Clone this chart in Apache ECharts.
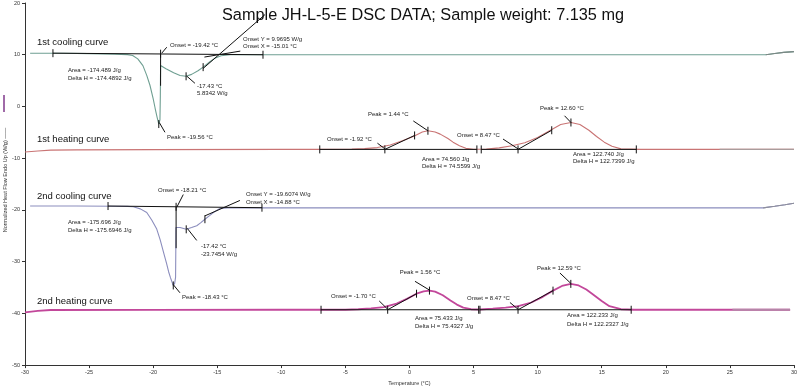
<!DOCTYPE html>
<html>
<head>
<meta charset="utf-8">
<script src="https://cdn.jsdelivr.net/npm/echarts@6/dist/echarts.min.js"></script>
<style>html,body{margin:0;padding:0;background:#fff}#c{width:800px;height:391px}</style>
</head>
<body>
<div id="c"></div>
<script>
// ---- data (temperature °C, heat flow W/g) ----
const titleText = 'Sample JH-L-5-E DSC DATA; Sample weight: 7.135 mg';
const xTicks = [-30, 30, 5];
const yTicks = [-50, 20, 10];

const cooling1X = [-29.6,-27,-25,-23,-22,-21.6,-21.2,-20.8,-20.5,-20.25,-20.0,-19.85,-19.7,-19.56,-19.47,-19.44,-19.42,-19.0,-18.4,-17.9,-17.43,-17.0,-16.5,-16.1,-15.6,-15.2,-14.7,-14.0,-12,-5,5,15,25,27.8,28.5,29.2,30];
const cooling1Y = [10.3,10.28,10.22,10.12,10.02,9.85,9.2,7.9,6.0,4.1,1.5,-0.3,-2.0,-3.4,-2.6,2.0,7.9,7.3,6.5,6.0,5.83,6.2,6.9,7.6,8.6,9.3,9.8,10.0,10.0,10.0,10.0,10.0,10.0,10.0,10.25,10.45,10.6];

const heating1X = [-30,-29,-28,-26,-20,-10,-6,-4.5,-3.5,-2.5,-1.5,-0.5,0.3,1.0,1.44,2.0,2.4,3.0,3.4,3.9,4.4,5.0,6.0,7.0,8.0,9.0,10.0,11.0,11.8,12.6,13.3,14.0,14.6,15.2,15.8,16.5,18,24.2,30];
const heating1Y = [-8.8,-8.6,-8.45,-8.4,-8.35,-8.3,-8.3,-8.25,-8.15,-7.95,-7.45,-6.6,-5.8,-4.95,-4.7,-4.95,-5.35,-6.2,-6.9,-7.6,-8.1,-8.28,-8.25,-8.0,-7.6,-7.0,-6.0,-4.6,-3.5,-3.1,-3.5,-4.6,-5.8,-6.9,-7.7,-8.2,-8.3,-8.3,-8.3];

const cooling2X = [-29.6,-26,-23,-22,-21.55,-21.0,-20.5,-20.1,-19.72,-19.45,-19.2,-18.95,-18.8,-18.65,-18.55,-18.43,-18.32,-18.25,-18.23,-18.22,-17.9,-17.42,-17.0,-16.6,-16.3,-15.96,-15.6,-15.3,-14.79,-14.2,-13.75,-10,0,10,20,27.6,28.5,29.3,30];
const cooling2Y = [-19.25,-19.25,-19.28,-19.32,-19.4,-19.8,-20.5,-22.0,-23.7,-25.8,-28.1,-30.4,-31.9,-33.1,-33.8,-34.6,-34.2,-33.0,-27.0,-23.4,-23.4,-23.75,-23.4,-23.05,-22.5,-21.8,-21.1,-20.5,-19.7,-19.6,-19.57,-19.6,-19.6,-19.6,-19.6,-19.6,-19.3,-19.0,-18.7];

const heating2X = [-30,-29,-28,-20,-10,-5,-4,-3,-2,-1,-0.2,0.55,1.1,1.56,2.0,2.6,3.2,3.7,4.2,4.8,5.5,6.5,7.5,8.5,9.5,10.4,11.2,11.9,12.59,13.2,13.8,14.3,15.0,15.6,16.5,17.5,25.2,29.7];
const heating2Y = [-39.8,-39.5,-39.35,-39.32,-39.3,-39.3,-39.2,-39.05,-38.8,-38.1,-37.2,-36.2,-35.75,-35.6,-35.8,-36.5,-37.5,-38.3,-38.9,-39.2,-39.25,-39.1,-38.9,-38.6,-37.9,-36.8,-35.6,-34.7,-34.3,-34.6,-35.4,-36.3,-37.6,-38.6,-39.2,-39.3,-39.3,-39.3];

// temperature where each curve's trace switches to its (duller) tail colour
const tailStart = [27.8, 24.2, 27.6, 25.2];

// annotation segments [x1,y1,x2,y2]
const annLines = [
  [-27.82,10.3,-11.43,10.0],[-19.42,10.2,-19.42,4.0],[-18.94,11.45,-19.33,10.3],
  [-16.11,7.33,-11.27,17.77],[-16.0,9.55,-13.2,10.7],[-16.74,4.48,-17.38,5.87],[-19.08,-4.99,-19.52,-3.11],
  [-7.0,-8.3,5.26,-8.3],[5.6,-8.3,17.7,-8.3],[-1.92,-8.3,0.4,-5.6],[-2.5,-7.1,-1.92,-8.2],
  [0.3,-2.8,1.44,-4.7],[8.47,-8.3,11.1,-4.6],[7.3,-6.3,8.47,-8.2],[12.1,-1.8,12.6,-3.1],
  [-23.52,-19.25,-11.51,-19.57],[-18.21,-19.4,-18.21,-27.4],[-17.65,-17.03,-18.16,-19.5],
  [-15.96,-21.15,-13.23,-18.17],[-16.6,-25.9,-17.34,-23.56],[-17.91,-36.02,-18.43,-34.44],
  [-6.9,-39.3,5.4,-39.3],[5.5,-39.3,17.3,-39.3],[-1.70,-39.3,0.55,-36.2],[-2.36,-37.6,-1.70,-39.2],
  [0.43,-33.8,1.56,-35.5],[8.47,-39.3,11.2,-35.6],[7.84,-37.9,8.47,-39.2],[11.74,-32.2,12.59,-34.2]
];
// small vertical tick marks [x,y]
const annTicks = [
  [-27.82,10.3],[-11.43,10.0],[-19.42,10.2],[-17.43,5.83],[-16.1,7.6],[-19.56,-3.4],
  [-7.0,-8.3],[5.26,-8.3],[5.6,-8.3],[17.7,-8.3],[-1.92,-8.3],[0.4,-5.6],[1.44,-4.7],[8.47,-8.3],[11.1,-4.6],[12.6,-3.1],
  [-23.52,-19.25],[-11.51,-19.57],[-18.21,-19.4],[-17.42,-23.75],[-15.96,-21.8],[-18.43,-34.6],
  [-6.9,-39.3],[5.4,-39.3],[5.5,-39.3],[17.3,-39.3],[-1.70,-39.3],[0.55,-36.2],[1.56,-35.6],[8.47,-39.3],[11.2,-35.6],[12.59,-34.3]
];
// annotation texts and anchor points
const annText = [
  'Onset = -19.42 °C','Onset Y = 9.9695 W/g','Onset X = -15.01 °C','-17.43 °C','5.8342 W/g',
  'Area = -174.489 J/g','Delta H = -174.4892 J/g','Peak = -19.56 °C',
  'Onset = -1.92 °C','Peak = 1.44 °C','Onset = 8.47 °C','Peak = 12.60 °C',
  'Area = 74.560 J/g','Delta H = 74.5599 J/g','Area = 122.740 J/g','Delta H = 122.7399 J/g',
  'Onset = -18.21 °C','Onset Y = -19.6074 W/g','Onset X = -14.88 °C','-17.42 °C','-23.7454 W/g',
  'Area = -175.696 J/g','Delta H = -175.6946 J/g','Peak = -18.43 °C',
  'Peak = 1.56 °C','Onset = -1.70 °C','Onset = 8.47 °C','Peak = 12.59 °C',
  'Area = 75.433 J/g','Delta H = 75.4327 J/g','Area = 122.233 J/g','Delta H = 122.2327 J/g'
];
const annTextPos = [
  [-18.69,11.9],[-12.99,13.0],[-12.99,11.56],[-16.58,3.97],[-16.58,2.45],
  [-26.65,7.0],[-26.65,5.43],[-18.92,-5.96],
  [-6.44,-6.28],[-3.24,-1.54],[3.71,-5.52],[10.18,-0.27],
  [0.97,-10.27],[0.97,-11.66],[12.76,-9.19],[12.76,-10.7],
  [-19.62,-16.21],[-12.76,-16.97],[-12.76,-18.5],[-16.27,-27.04],[-16.27,-28.55],
  [-26.65,-22.42],[-26.65,-23.87],[-17.75,-36.97],
  [-0.76,-32.1],[-6.13,-36.78],[4.49,-37.16],[9.95,-31.27],
  [0.43,-40.9],[0.43,-42.47],[12.29,-40.46],[12.29,-42.03]
];
const curveNames = ['1st cooling curve','1st heating curve','2nd cooling curve','2nd heating curve'];
const curveNamePos = [[-29.06,12.45],[-29.06,-6.34],[-29.06,-17.35],[-29.06,-37.67]];

// ---- chart ----
const zip = (xs, ys) => xs.map((x, i) => [x, ys[i]]);
const FONT = '"Liberation Sans", Arial, sans-serif';
const curveColors = ['#6f9f92', '#c97474', '#8b8dbd', '#c2479a'];
const tailColors = ['#7b8784', '#a99c9c', '#8e8f9c', '#b586a8'];
const curveWidths = [1.1, 1.1, 1.1, 1.8];
const curves = [[cooling1X, cooling1Y], [heating1X, heating1Y], [cooling2X, cooling2Y], [heating2X, heating2Y]];
const lineSeries = (pts, color, w, z) => ({
  type: 'line', data: pts, showSymbol: false, symbol: 'none', silent: true,
  lineStyle: { color: color, width: w }, z: z, animation: false
});
const series = [];
curves.forEach((c, i) => series.push(lineSeries(zip(c[0], c[1]), curveColors[i], curveWidths[i], 3)));
curves.forEach((c, i) => {
  const first = c[0].findIndex(x => x >= tailStart[i]);
  series.push(lineSeries(zip(c[0], c[1]).slice(first), tailColors[i], curveWidths[i], 4));
});
series.push(
  {
    type: 'custom', data: annLines, silent: true, z: 5, clip: false,
    encode: { x: [0, 2], y: [1, 3] },
    renderItem: (p, api) => {
      const a = api.coord([api.value(0), api.value(1)]);
      const b = api.coord([api.value(2), api.value(3)]);
      return { type: 'line', shape: { x1: a[0], y1: a[1], x2: b[0], y2: b[1] }, style: { stroke: '#111', lineWidth: 1 } };
    }
  },
  {
    type: 'custom', data: annTicks, silent: true, z: 5, clip: false,
    encode: { x: 0, y: 1 },
    renderItem: (p, api) => {
      const a = api.coord([api.value(0), api.value(1)]);
      return { type: 'line', shape: { x1: a[0], y1: a[1] - 4, x2: a[0], y2: a[1] + 4 }, style: { stroke: '#111', lineWidth: 1 } };
    }
  },
  {
    type: 'custom', data: annTextPos, silent: true, z: 6, clip: false,
    encode: { x: 0, y: 1 },
    renderItem: (p, api) => {
      const a = api.coord([api.value(0), api.value(1)]);
      return { type: 'text', x: a[0], y: a[1], style: { text: annText[p.dataIndex], font: '6px ' + FONT, fill: '#222', align: 'left', verticalAlign: 'middle' } };
    }
  },
  {
    type: 'custom', data: curveNamePos, silent: true, z: 6, clip: false,
    encode: { x: 0, y: 1 },
    renderItem: (p, api) => {
      const a = api.coord([api.value(0), api.value(1)]);
      return { type: 'text', x: a[0], y: a[1], style: { text: curveNames[p.dataIndex], font: '9.5px ' + FONT, fill: '#111', align: 'left', verticalAlign: 'middle' } };
    }
  }
);

const chart = echarts.init(document.getElementById('c'), null, { renderer: 'canvas' });
chart.setOption({
  animation: false,
  backgroundColor: '#fff',
  title: { text: titleText, left: 222, top: 8, padding: 0, textStyle: { fontFamily: FONT, fontSize: 16.3, fontWeight: 'normal', color: '#111' } },
  grid: { left: 25, right: 6, top: 3, bottom: 19 },
  xAxis: {
    type: 'value', min: xTicks[0], max: xTicks[1], interval: xTicks[2],
    name: 'Temperature (°C)', nameLocation: 'middle', nameGap: 11,
    nameTextStyle: { fontFamily: FONT, fontSize: 5.5, color: '#333' },
    axisLine: { onZero: false, lineStyle: { color: '#333', width: 1 } },
    axisTick: { length: 3, lineStyle: { color: '#333' } },
    axisLabel: { fontFamily: FONT, fontSize: 5.5, color: '#333', margin: 4 },
    splitLine: { show: false }
  },
  yAxis: {
    type: 'value', min: yTicks[0], max: yTicks[1], interval: yTicks[2],
    axisLine: { show: true, onZero: false, lineStyle: { color: '#333', width: 1 } },
    axisTick: { show: true, length: 3, lineStyle: { color: '#333' } },
    axisLabel: { fontFamily: FONT, fontSize: 5.5, color: '#333', margin: 5 },
    splitLine: { show: false }
  },
  graphic: [
    { type: 'rect', left: 3, top: 95, shape: { width: 2, height: 17 }, style: { fill: '#a06aa8' } },
    { type: 'text', x: 5, y: 180, rotation: Math.PI / 2, style: { text: 'Normalized Heat Flow Endo Up (W/g) ——', font: '5.5px ' + FONT, fill: '#333', align: 'center', verticalAlign: 'middle' } }
  ],
  series: series
});
</script>
</body>
</html>
